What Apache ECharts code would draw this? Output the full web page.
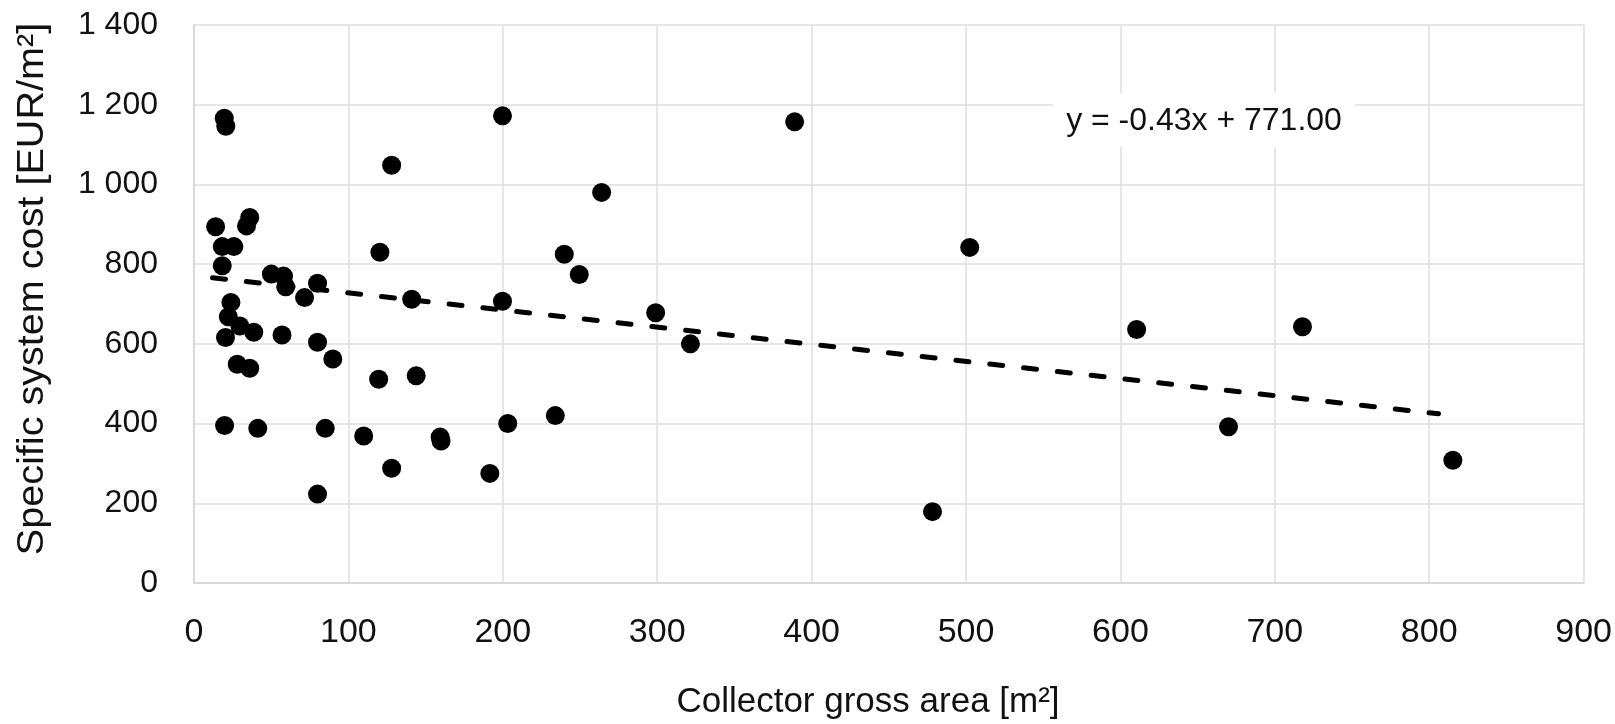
<!DOCTYPE html>
<html>
<head>
<meta charset="utf-8">
<title>Specific system cost vs collector gross area</title>
<script src="https://cdn.jsdelivr.net/npm/echarts@6/dist/echarts.min.js"></script>
<style>
  html, body { margin: 0; padding: 0; background: #fff; }
  #main { width: 1615px; height: 724px; }
</style>
</head>
<body>
<div id="main"></div>
<script>
// collector gross area [m2], one entry per installation
const areaValues = [
  19.6, 20.6, 199.8, 128, 264, 14, 36.1, 34, 18.3, 25.8,
  120.4, 239.8, 249.5, 18.3, 50.1, 58, 59.4, 80, 71.6, 141,
  199.8, 299, 23.9, 22.2, 29.7, 38.7, 20.4, 57, 80, 89.9,
  28, 36.1, 119.6, 143.9, 19.8, 41.3, 85, 109.9, 159.4, 160,
  128, 191.6, 203.2, 234, 80, 389, 502.4, 321.5, 478.3, 610.5,
  717.9, 670, 815.3
]
// specific system cost [EUR/m2], same order
const costValues = [
  1166, 1146, 1172, 1048, 980, 894, 917, 896, 844, 844,
  830, 825, 774, 796, 775, 770, 743, 752, 716, 712,
  707, 678, 704, 668, 645, 629, 616, 622, 604, 562,
  549, 539, 511, 520, 395, 388, 388, 369, 366, 356,
  288, 275, 400, 420, 223, 1157, 842, 600, 179, 636,
  643, 392, 308
]
// linear trendline as printed on the chart
const trendSlope = -0.43
const trendIntercept = 771.00
const trendX = [12, 806]

const xTickLabels = ['0', '100', '200', '300', '400', '500', '600', '700', '800', '900']
const yTickLabels = ['0', '200', '400', '600', '800', '1 000', '1 200', '1 400']

const points = areaValues.map((x, i) => [x, costValues[i]])
const trendPoints = trendX.map(x => [x, trendSlope * x + trendIntercept])

const myChart = echarts.init(document.getElementById('main'))
myChart.setOption({
  animation: false,
  grid: {
    left: 194,
    right: 30,
    top: 25,
    bottom: 141
  },
  xAxis: {
    type: 'value',
    min: 0,
    max: 900,
    interval: 100,
    axisLine: { lineStyle: { color: '#d4d4d4', width: 1.5 } },
    axisTick: { show: false },
    splitLine: { lineStyle: { color: '#dedede', width: 1.5 } },
    axisLabel: {
      margin: 33,
      color: '#111',
      fontSize: 34,
      fontFamily: 'Liberation Sans',
      formatter: v => xTickLabels[Math.round(v / 100)]
    }
  },
  yAxis: {
    type: 'value',
    min: 0,
    max: 1400,
    interval: 200,
    axisLine: { show: true, lineStyle: { color: '#d4d4d4', width: 1.5 } },
    axisTick: { show: false },
    splitLine: { lineStyle: { color: '#dedede', width: 1.5 } },
    axisLabel: {
      margin: 36,
      color: '#111',
      fontSize: 32,
      fontFamily: 'Liberation Sans',
      formatter: v => yTickLabels[Math.round(v / 200)]
    }
  },
  series: [{
    name: 'systems',
    type: 'scatter',
    data: points,
    symbol: 'circle',
    symbolSize: 19,
    itemStyle: { color: '#000', opacity: 1 },
    z: 2
  }, {
    name: 'trend',
    type: 'line',
    data: trendPoints,
    showSymbol: false,
    lineStyle: { color: '#000', width: 5, type: [13, 21], cap: 'round' },
    z: 3
  }],
  graphic: [{
    type: 'rect',
    z: 10,
    shape: { x: 1053, y: 93, width: 302, height: 54 },
    style: { fill: '#fff' }
  }, {
    type: 'text',
    z: 11,
    x: 1204,
    y: 121,
    style: {
      text: 'y = ' + trendSlope.toFixed(2) + 'x + ' + trendIntercept.toFixed(2),
      font: '32px "Liberation Sans"',
      fill: '#111',
      textAlign: 'center',
      textVerticalAlign: 'middle',
      align: 'center',
      verticalAlign: 'middle'
    }
  }, {
    type: 'text',
    z: 11,
    x: 868,
    y: 702,
    style: {
      text: 'Collector gross area [m²]',
      font: '35px "Liberation Sans"',
      fill: '#111',
      textAlign: 'center',
      textVerticalAlign: 'middle',
      align: 'center',
      verticalAlign: 'middle'
    }
  }, {
    type: 'text',
    z: 11,
    x: 33,
    y: 289,
    rotation: Math.PI / 2,
    scaleX: 1.07,
    style: {
      text: 'Specific system cost [EUR/m²]',
      font: '37px "Liberation Sans"',
      fill: '#111',
      textAlign: 'center',
      textVerticalAlign: 'middle',
      align: 'center',
      verticalAlign: 'middle'
    }
  }]
})
window.addEventListener('resize', function () {
  myChart.resize()
})
</script>
</body>
</html>
